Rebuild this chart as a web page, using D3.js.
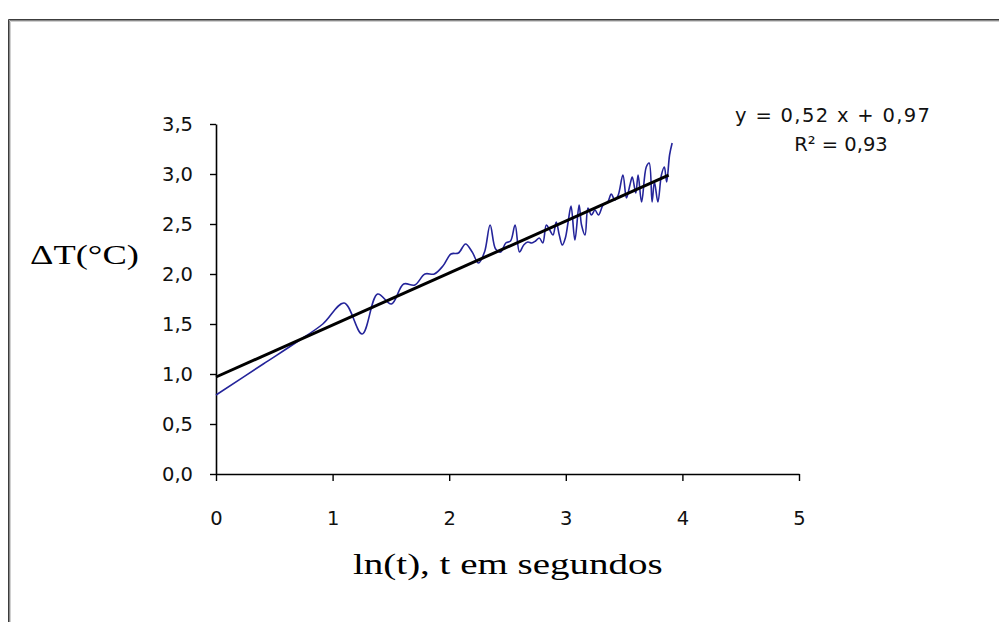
<!DOCTYPE html>
<html>
<head>
<meta charset="utf-8">
<script src="https://cdn.jsdelivr.net/npm/d3@7"></script>
<style>
  body { margin: 0; background: #fff; }
  svg { display: block; }
</style>
</head>
<body>
<div id="chart"></div>
<script>
var svgWidth = 999;
var svgHeight = 622;

// ln(t) values of the measured curve
var lnT = [0.000, 0.405, 0.693, 0.916, 1.099, 1.253, 1.386, 1.504, 1.609, 1.705,
    1.792, 1.872, 1.946, 2.015, 2.079, 2.140, 2.197, 2.251, 2.303, 2.351,
    2.398, 2.442, 2.485, 2.526, 2.565, 2.603, 2.639, 2.674, 2.708, 2.741,
    2.773, 2.803, 2.833, 2.862, 2.890, 2.918, 2.944, 2.970, 2.996, 3.020,
    3.045, 3.078, 3.114, 3.135, 3.165, 3.190, 3.220, 3.250, 3.280, 3.320,
    3.360, 3.390, 3.420, 3.450, 3.490, 3.520, 3.550, 3.570, 3.600, 3.620,
    3.650, 3.690, 3.715, 3.740, 3.760, 3.790, 3.820, 3.845, 3.865, 3.890,
    3.912];

// temperature rise (°C)
var deltaT = [0.79, 1.10, 1.32, 1.50, 1.71, 1.40, 1.80, 1.70, 1.90, 1.89,
    2.00, 2.00, 2.08, 2.20, 2.21, 2.30, 2.22, 2.11, 2.22, 2.49,
    2.25, 2.22, 2.31, 2.33, 2.49, 2.22, 2.29, 2.32, 2.31, 2.33,
    2.36, 2.31, 2.49, 2.44, 2.39, 2.52, 2.39, 2.29, 2.36, 2.52,
    2.68, 2.34, 2.69, 2.49, 2.39, 2.66, 2.59, 2.64, 2.59, 2.69,
    2.72, 2.80, 2.74, 2.79, 2.99, 2.76, 2.89, 2.97, 2.81, 2.99,
    2.72, 3.07, 3.11, 2.72, 2.92, 2.72, 2.99, 3.07, 2.92, 3.19,
    3.31];

var slope = 0.52;
var intercept = 0.97;
var eqLabel = "y = 0,52 x + 0,97";
var r2Label = "R\u00b2 = 0,93";

var xTicks = [0, 1, 2, 3, 4, 5];
var yTicks = [0, 0.5, 1, 1.5, 2, 2.5, 3, 3.5];

var data = lnT.map(function (x, i) { return { x: x, y: deltaT[i] }; });

var plot = { left: 216, right: 799, top: 124, bottom: 474 };

var svg = d3.select("#chart")
    .append("svg")
    .attr("width", svgWidth)
    .attr("height", svgHeight);

// frame (top and left edges only)
svg.append("path").attr("d", "M8.5,622V19.5H999").attr("fill", "none").attr("stroke", "#3c3c3c");
svg.append("path").attr("d", "M9.5,622V20.5H999").attr("fill", "none").attr("stroke", "#8a8a8a");
svg.append("path").attr("d", "M10.5,622V21.5H999").attr("fill", "none").attr("stroke", "#d0d0d0");

var xScale = d3.scaleLinear().domain([0, 5]).range([plot.left, plot.right]);
var yScale = d3.scaleLinear().domain([0, 3.5]).range([plot.bottom, plot.top]);

var fmt = function (d) { return d3.format(".1f")(d).replace(".", ","); };

var xAxis = svg.append("g")
    .attr("transform", `translate(0, ${plot.bottom})`)
    .call(d3.axisBottom(xScale).tickValues(xTicks).tickFormat(d3.format("d"))
        .tickSize(7).tickPadding(30).tickSizeOuter(0));

var yAxis = svg.append("g")
    .attr("transform", `translate(${plot.left}, 0)`)
    .call(d3.axisLeft(yScale).tickValues(yTicks).tickFormat(fmt)
        .tickSize(6).tickPadding(17).tickSizeOuter(0));

[xAxis, yAxis].forEach(function (ax) {
    ax.select(".domain").attr("stroke", "#000").attr("stroke-width", 1.6);
    ax.selectAll(".tick line").attr("stroke", "#000").attr("stroke-width", 1.4);
    ax.selectAll("text")
        .attr("fill", "#111")
        .style("font-family", "'DejaVu Sans', sans-serif")
        .style("font-size", "19.5px");
});

// measured curve (smoothed)
var line = d3.line()
    .x(d => xScale(d.x))
    .y(d => yScale(d.y))
    .curve(d3.curveCatmullRom.alpha(0.5));

svg.append("path")
    .datum(data)
    .attr("fill", "none")
    .attr("stroke", "#24249a")
    .attr("stroke-width", 1.6)
    .attr("d", line);

// linear trend line
var xr = d3.extent(lnT);
svg.append("line")
    .attr("x1", xScale(xr[0]))
    .attr("y1", yScale(intercept + slope * xr[0]))
    .attr("x2", xScale(xr[1] - 0.03))
    .attr("y2", yScale(intercept + slope * (xr[1] - 0.03)))
    .attr("stroke", "#000")
    .attr("stroke-width", 3);

// trend equation
svg.append("text")
    .attr("x", 735)
    .attr("y", 122)
    .attr("textLength", 195)
    .attr("lengthAdjust", "spacing")
    .style("font-family", "'DejaVu Sans', sans-serif")
    .style("font-size", "19.5px")
    .attr("fill", "#111")
    .text(eqLabel);

svg.append("text")
    .attr("x", 841)
    .attr("y", 151)
    .attr("text-anchor", "middle")
    .style("font-family", "'DejaVu Sans', sans-serif")
    .style("font-size", "19.5px")
    .attr("fill", "#111")
    .text(r2Label);

// axis titles (the source picture is stretched sideways)
svg.append("text")
    .attr("transform", "translate(30, 264) scale(1.35, 1)")
    .style("font-family", "'Liberation Serif', serif")
    .style("font-size", "27px")
    .attr("fill", "#000")
    .text("\u0394T(\u00b0C)");

svg.append("text")
    .attr("transform", "translate(353, 574) scale(1.3, 1)")
    .style("font-family", "'Liberation Serif', serif")
    .style("font-size", "30px")
    .attr("fill", "#000")
    .text("ln(t), t em segundos");
</script>
</body>
</html>
